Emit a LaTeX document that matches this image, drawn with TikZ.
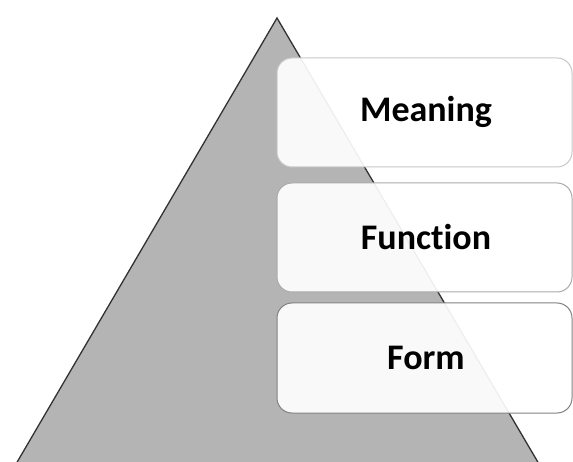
\documentclass[tikz,border=0pt]{standalone}
\usepackage{fontspec}
\setmainfont[Ligatures={NoCommon}]{Carlito}
\begin{document}
\begin{tikzpicture}[x=1pt,y=-1pt,
  layerbox/.style={rounded corners=15pt, fill=white, fill opacity=0.92, text opacity=1, line width=1pt},
  lbl/.style={font=\fontsize{36}{40}\selectfont\bfseries, text=black}]
\useasboundingbox (0,0) rectangle (573,462);
\fill[white] (0,0) rectangle (573,462);
\begin{scope}
\clip (0,0) rectangle (573,462);
\draw[fill={rgb,255:red,180;green,180;blue,180}, draw={rgb,255:red,50;green,50;blue,50}, line width=1.3pt, line join=miter]
  (16,464) -- (277,18) -- (539,464);
\end{scope}
\draw[layerbox, draw={rgb,255:red,200;green,200;blue,200}] (277,58) rectangle (572,167);
\draw[layerbox, draw={rgb,255:red,170;green,170;blue,170}] (277,183) rectangle (572,292);
\draw[layerbox, draw={rgb,255:red,130;green,130;blue,130}] (277,303) rectangle (572,413);
\node[lbl] (meaning) at (426,112) {Meaning};
\node[lbl] (function) at (426,237) {Function};
\node[lbl] (form) at (426,358) {Form};
\end{tikzpicture}
\end{document}
